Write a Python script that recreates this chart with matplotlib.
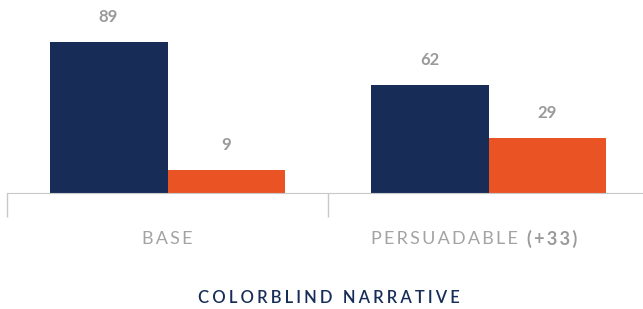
import matplotlib
matplotlib.use("Agg")
from matplotlib import pyplot as plt

groups = ["BASE", "PERSUADABLE"]
group_notes = ["", "(+33)"]
navy_vals = [89, 62]
orange_vals = [9, 29]
title = "COLORBLIND NARRATIVE"

NAVY = "#172d58"
ORANGE = "#ea5324"
GREY = "#9a9a9a"
LINE = "#c8c8c8"
FAM = ["Lato", "DejaVu Sans"]
Y0 = -5.4  # the bars start a little below the value axis zero

def spaced(s, gap="\u2009"):
    return gap.join(s)

fig = plt.figure(figsize=(6.43, 3.09), dpi=100)
ax = fig.add_axes([7/643, 116/309, 642/643, 170/309])

x = range(len(groups))
w = 0.3676
nb = ax.bar([i - w/2 for i in x], [v - Y0 for v in navy_vals], bottom=Y0, width=w, color=NAVY)
ob = ax.bar([i + w/2 for i in x], [v - Y0 for v in orange_vals], bottom=Y0, width=w, color=ORANGE)

for bars, vals in ((nb, navy_vals), (ob, orange_vals)):
    for b, v in zip(bars, vals):
        ax.annotate(str(v), (b.get_x() + b.get_width()/2, v),
                    xytext=(0, 12), textcoords="offset points", ha="center", va="bottom",
                    fontsize=12, fontweight="bold", color=GREY, family=FAM)

ax.set_xlim(-0.5, 1.5)
ax.set_ylim(Y0, Y0 + 170/1.6)
for s in ("top", "right", "left"):
    ax.spines[s].set_visible(False)
ax.spines["bottom"].set_color(LINE)
ax.set_yticks([])
ax.set_xticks([])
ax.set_xticks([-0.5, 0.5], minor=True)
ax.tick_params(axis="x", which="minor", length=17.5, width=1, color=LINE)

# category labels
ax.annotate(spaced(groups[0]), xy=(0, 0), xycoords=("data", "axes fraction"),
            xytext=(0, -33), textcoords="offset points", ha="center", va="center",
            fontsize=13, color="#a3a3a3", family=FAM)
t1 = ax.annotate(spaced(groups[1]), xy=(1 - w, 0), xycoords=("data", "axes fraction"),
                 xytext=(0, -33), textcoords="offset points", ha="left", va="center",
                 fontsize=13, color="#a3a3a3", family=FAM)
ax.annotate(spaced(group_notes[1]), xy=(1, 0.5), xycoords=t1,
            xytext=(7, 0), textcoords="offset points", ha="left", va="center",
            fontsize=13, fontweight="bold", color=GREY, family=FAM)

fig.text(329/643, 1 - 298/309, spaced(title, "\u2009\u200a"), ha="center", va="center",
         fontsize=12, fontweight="semibold", color=NAVY, family=FAM)

fig.savefig("out.png", dpi=100)
